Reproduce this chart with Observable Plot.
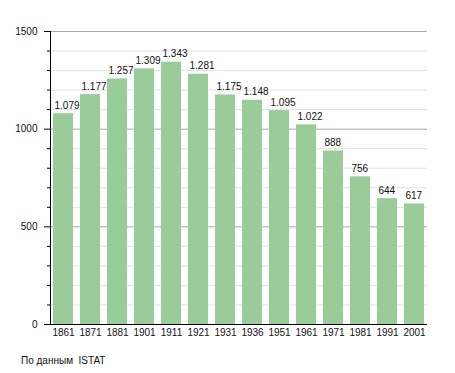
<!DOCTYPE html>
<html>
<head>
<meta charset="utf-8">
<script src="https://cdn.jsdelivr.net/npm/d3@7"></script>
<script src="https://cdn.jsdelivr.net/npm/@observablehq/plot@0.6"></script>
<style>
  body { margin: 0; background: #fff; font-family: 'Liberation Sans', Arial, sans-serif; }
  #caption { font-size: 10px; line-height: 12px; padding: 10px 0 0 21px; color: #111; font-family: 'Liberation Sans', Arial, sans-serif; }
  svg text { font-family: 'Liberation Sans', Arial, sans-serif; }
</style>
</head>
<body>
<div id="chart"></div>
<div id="caption">По данным&nbsp; ISTAT</div>
<script>
const years = ["1861","1871","1881","1901","1911","1921","1931","1936","1951","1961","1971","1981","1991","2001"];
const population = [1079,1177,1257,1309,1343,1281,1175,1148,1095,1022,888,756,644,617];
const majorTicks = [0, 500, 1000, 1500];
const minorTicks = [100,200,300,400,600,700,800,900,1100,1200,1300,1400];

const data = years.map((y, i) => ({year: y, value: population[i]}));
const fmt = d3.formatLocale({decimal: ",", thousands: ".", grouping: [3], currency: ["", ""]}).format(",");

const chart = Plot.plot({
  width: 455,
  height: 345,
  marginLeft: 50,
  marginRight: 28,
  marginTop: 31,
  marginBottom: 21,
  style: {fontFamily: "'Liberation Sans', Arial, sans-serif", fontSize: "10px", color: "#111", background: "#fff"},
  x: {type: "band", domain: years, paddingInner: 0.25, paddingOuter: 0.02, label: null},
  y: {domain: [0, 1500], label: null},
  marks: [
    Plot.ruleY(minorTicks, {stroke: "#e2e2e2", strokeWidth: 1}),
    Plot.ruleY([500, 1000, 1500], {stroke: "#a8a8a8", strokeWidth: 1}),
    Plot.barY(data, {x: "year", y: "value", fill: "#99cc99"}),
    Plot.text(data, {x: "year", y: "value", text: d => fmt(d.value), textAnchor: "start", lineAnchor: "bottom", dx: -9, dy: -5, fill: "#111", fontSize: 10}),
    Plot.axisY({ticks: minorTicks, tickSize: 3, text: null, stroke: "#000"}),
    Plot.axisY({ticks: majorTicks, tickSize: 6, tickPadding: 7, tickFormat: d => String(d), stroke: "#000", fill: "#111"}),
    Plot.axisX({tickSize: 0, tickPadding: 4, fill: "#111"}),
    Plot.frame({anchor: "left", stroke: "#000"}),
    Plot.ruleY([0], {stroke: "#000"})
  ]
});
document.getElementById("chart").appendChild(chart);
</script>
</body>
</html>
